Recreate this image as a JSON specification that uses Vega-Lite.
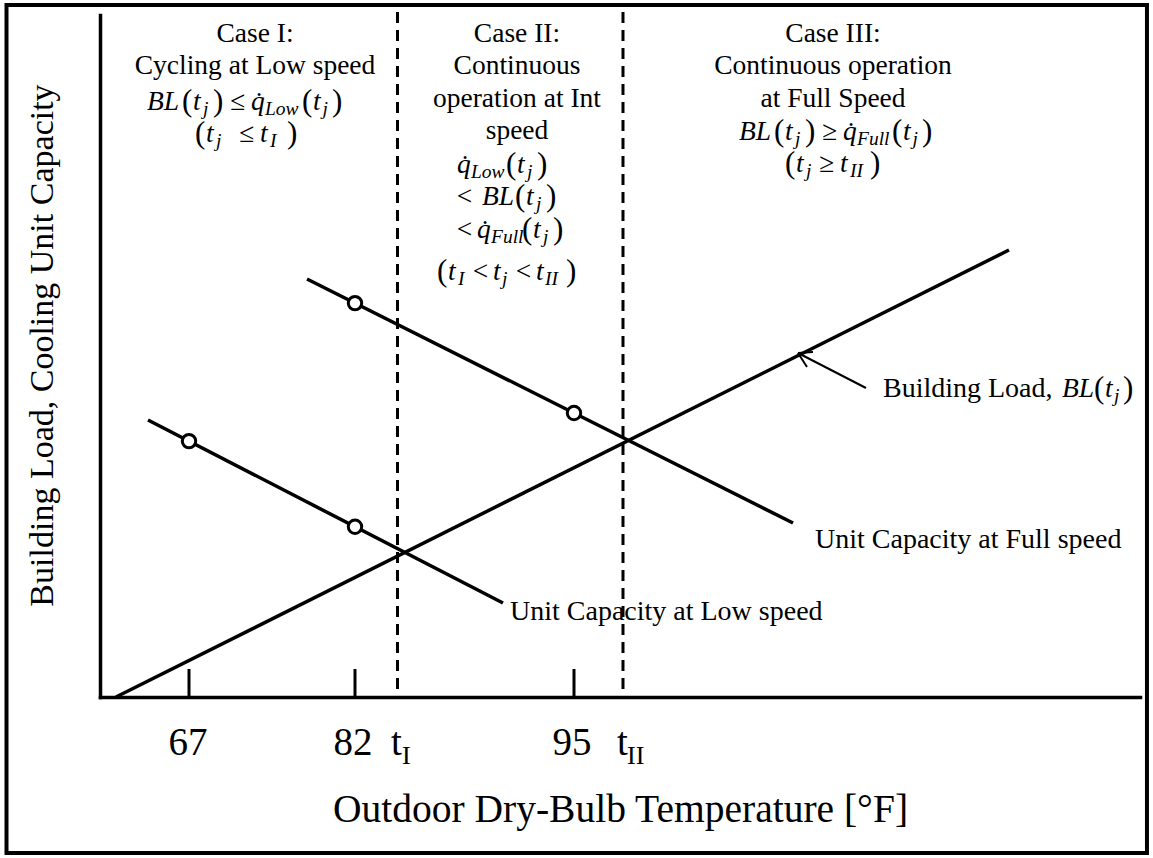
{
  "$schema": "https://vega.github.io/schema/vega-lite/v6.json",
  "width": 1040,
  "height": 682,
  "autosize": {"type": "none"},
  "padding": {"left": 100, "top": 15, "right": 13, "bottom": 161},
  "background": "white",
  "config": {"view": {"stroke": null}, "font": "Liberation Serif", "text": {"font": "Liberation Serif", "color": "black"}},
  "datasets": {
    "frame": [{"x": -8.99, "x2": 100.67, "y": -22.87, "y2": 101.47}],
    "curves": [
      {"curve": "Building Load", "x": 1.538, "y": 0, "x2": 87.404, "y2": 65.543},
      {"curve": "Unit Capacity at Full speed", "x": 19.904, "y": 61.29, "x2": 66.635, "y2": 25.513},
      {"curve": "Unit Capacity at Low speed", "x": 4.615, "y": 40.616, "x2": 38.75, "y2": 13.783}
    ],
    "arrow": [
      {"x": 73.654, "y": 45.308, "x2": 67.115, "y2": 50.44},
      {"x": 67.115, "y": 50.44, "x2": 68.558, "y2": 50.587},
      {"x": 67.115, "y": 50.44, "x2": 67.981, "y2": 48.387}
    ],
    "dividers": [
      {"name": "t_I", "x": 28.606, "y": 100.44, "y2": 0},
      {"name": "t_II", "x": 50.288, "y": 100.44, "y2": 0}
    ],
    "ticks": [
      {"label": "67", "x": 8.558, "y": 0, "y2": 4.106},
      {"label": "82", "x": 24.519, "y": 0, "y2": 4.106},
      {"label": "95", "x": 45.577, "y": 0, "y2": 4.106}
    ],
    "points": [
      {"curve": "Low", "temp": "67", "x": 8.558, "y": 37.522},
      {"curve": "Low", "temp": "82", "x": 24.519, "y": 24.971},
      {"curve": "Full", "temp": "82", "x": 24.519, "y": 57.757},
      {"curve": "Full", "temp": "95", "x": 45.577, "y": 41.635}
    ],
    "texts": [
      {"kind": "head", "x": 14.904, "y": 96.085, "text": "Case I:"},
      {"kind": "head", "x": 14.904, "y": 91.349, "text": "Cycling at Low speed"},
      {"kind": "m", "x": 4.519, "y": 86.07, "text": "BL"},
      {"kind": "p", "x": 7.885, "y": 86.07, "text": "("},
      {"kind": "m", "x": 8.942, "y": 86.07, "text": "t"},
      {"kind": "s", "x": 9.904, "y": 86.07, "text": "j"},
      {"kind": "p", "x": 10.865, "y": 86.07, "text": ")"},
      {"kind": "m", "x": 12.5, "y": 86.07, "text": "≤"},
      {"kind": "m", "x": 14.519, "y": 86.07, "text": "q̇"},
      {"kind": "s", "x": 15.865, "y": 86.07, "text": "Low"},
      {"kind": "p", "x": 19.423, "y": 86.07, "text": "("},
      {"kind": "m", "x": 20.481, "y": 86.07, "text": "t"},
      {"kind": "s", "x": 21.394, "y": 86.07, "text": "j"},
      {"kind": "p", "x": 22.308, "y": 86.07, "text": ")"},
      {"kind": "p", "x": 9.135, "y": 81.422, "text": "("},
      {"kind": "m", "x": 10.192, "y": 81.422, "text": "t"},
      {"kind": "s", "x": 11.154, "y": 81.422, "text": "j"},
      {"kind": "m", "x": 13.365, "y": 81.422, "text": "≤"},
      {"kind": "m", "x": 15.385, "y": 81.422, "text": "t"},
      {"kind": "s", "x": 16.346, "y": 81.422, "text": "I"},
      {"kind": "p", "x": 17.981, "y": 81.422, "text": ")"},
      {"kind": "head", "x": 40.096, "y": 96.085, "text": "Case II:"},
      {"kind": "head", "x": 40.096, "y": 91.349, "text": "Continuous"},
      {"kind": "head", "x": 40.096, "y": 86.554, "text": "operation at Int"},
      {"kind": "head", "x": 40.096, "y": 81.774, "text": "speed"},
      {"kind": "m", "x": 34.327, "y": 76.789, "text": "q̇"},
      {"kind": "s", "x": 35.673, "y": 76.789, "text": "Low"},
      {"kind": "p", "x": 39.038, "y": 76.789, "text": "("},
      {"kind": "m", "x": 40.096, "y": 76.789, "text": "t"},
      {"kind": "s", "x": 41.058, "y": 76.789, "text": "j"},
      {"kind": "p", "x": 42.019, "y": 76.789, "text": ")"},
      {"kind": "m", "x": 34.135, "y": 72.141, "text": "<"},
      {"kind": "m", "x": 36.731, "y": 72.141, "text": "BL"},
      {"kind": "p", "x": 39.904, "y": 72.141, "text": "("},
      {"kind": "m", "x": 40.962, "y": 72.141, "text": "t"},
      {"kind": "s", "x": 41.923, "y": 72.141, "text": "j"},
      {"kind": "p", "x": 42.885, "y": 72.141, "text": ")"},
      {"kind": "m", "x": 34.135, "y": 67.258, "text": "<"},
      {"kind": "m", "x": 36.25, "y": 67.258, "text": "q̇"},
      {"kind": "s", "x": 37.596, "y": 67.258, "text": "Full"},
      {"kind": "p", "x": 40.577, "y": 67.258, "text": "("},
      {"kind": "m", "x": 41.635, "y": 67.258, "text": "t"},
      {"kind": "s", "x": 42.596, "y": 67.258, "text": "j"},
      {"kind": "p", "x": 43.558, "y": 67.258, "text": ")"},
      {"kind": "p", "x": 32.404, "y": 61.144, "text": "("},
      {"kind": "m", "x": 33.462, "y": 61.144, "text": "t"},
      {"kind": "s", "x": 34.423, "y": 61.144, "text": "I"},
      {"kind": "m", "x": 35.673, "y": 61.144, "text": "<"},
      {"kind": "m", "x": 37.788, "y": 61.144, "text": "t"},
      {"kind": "s", "x": 38.654, "y": 61.144, "text": "j"},
      {"kind": "m", "x": 39.808, "y": 61.144, "text": "<"},
      {"kind": "m", "x": 41.923, "y": 61.144, "text": "t"},
      {"kind": "s", "x": 42.788, "y": 61.144, "text": "II"},
      {"kind": "p", "x": 44.808, "y": 61.144, "text": ")"},
      {"kind": "head", "x": 70.481, "y": 96.085, "text": "Case III:"},
      {"kind": "head", "x": 70.481, "y": 91.349, "text": "Continuous operation"},
      {"kind": "head", "x": 70.481, "y": 86.554, "text": "at Full Speed"},
      {"kind": "m", "x": 61.442, "y": 81.672, "text": "BL"},
      {"kind": "p", "x": 64.808, "y": 81.672, "text": "("},
      {"kind": "m", "x": 65.865, "y": 81.672, "text": "t"},
      {"kind": "s", "x": 66.827, "y": 81.672, "text": "j"},
      {"kind": "p", "x": 67.788, "y": 81.672, "text": ")"},
      {"kind": "m", "x": 69.423, "y": 81.672, "text": "≥"},
      {"kind": "m", "x": 71.442, "y": 81.672, "text": "q̇"},
      {"kind": "s", "x": 72.788, "y": 81.672, "text": "Full"},
      {"kind": "p", "x": 76.154, "y": 81.672, "text": "("},
      {"kind": "m", "x": 77.212, "y": 81.672, "text": "t"},
      {"kind": "s", "x": 78.125, "y": 81.672, "text": "j"},
      {"kind": "p", "x": 79.038, "y": 81.672, "text": ")"},
      {"kind": "p", "x": 65.865, "y": 77.023, "text": "("},
      {"kind": "m", "x": 66.923, "y": 77.023, "text": "t"},
      {"kind": "s", "x": 67.885, "y": 77.023, "text": "j"},
      {"kind": "m", "x": 69.135, "y": 77.023, "text": "≥"},
      {"kind": "m", "x": 71.154, "y": 77.023, "text": "t"},
      {"kind": "s", "x": 72.115, "y": 77.023, "text": "II"},
      {"kind": "p", "x": 74.038, "y": 77.023, "text": ")"},
      {"kind": "note", "x": 75.288, "y": 44.032, "text": "Building Load,"},
      {"kind": "m", "x": 92.5, "y": 44.032, "text": "BL"},
      {"kind": "p", "x": 95.577, "y": 44.032, "text": "("},
      {"kind": "m", "x": 96.635, "y": 44.032, "text": "t"},
      {"kind": "s", "x": 97.5, "y": 44.032, "text": "j"},
      {"kind": "p", "x": 98.365, "y": 44.032, "text": ")"},
      {"kind": "note", "x": 68.75, "y": 21.804, "text": "Unit Capacity at Full speed"},
      {"kind": "note", "x": 39.423, "y": 11.29, "text": "Unit Capacity at Low speed"},
      {"kind": "tick", "x": 8.462, "y": -8.504, "text": "67"},
      {"kind": "tick", "x": 24.327, "y": -8.504, "text": "82"},
      {"kind": "tick", "x": 45.385, "y": -8.504, "text": "95"},
      {"kind": "tickt", "x": 27.981, "y": -8.504, "text": "t"},
      {"kind": "ticks", "x": 29.038, "y": -8.504, "text": "I"},
      {"kind": "tickt", "x": 49.712, "y": -8.504, "text": "t"},
      {"kind": "ticks", "x": 50.673, "y": -8.504, "text": "II"}
    ]
  },
  "encoding": {
    "x": {
      "field": "x", "type": "quantitative",
      "scale": {"domain": [0, 100], "nice": false, "zero": false},
      "axis": {"title": "Outdoor Dry-Bulb Temperature [°F]", "labels": false, "ticks": false, "grid": false, "domainColor": "black", "domainWidth": 3.5, "domainCap": "square", "titleFont": "Liberation Serif", "titleFontSize": 39.5, "titleFontWeight": "normal", "titleColor": "black", "titleBaseline": "alphabetic", "titlePadding": 124, "minExtent": 0, "maxExtent": 0}
    },
    "y": {
      "field": "y", "type": "quantitative",
      "scale": {"domain": [0, 100], "nice": false, "zero": false},
      "axis": {"title": "Building Load, Cooling Unit Capacity", "labels": false, "ticks": false, "grid": false, "domainColor": "black", "domainWidth": 3.5, "domainCap": "square", "titleFont": "Liberation Serif", "titleFontSize": 34, "titleFontWeight": "normal", "titleColor": "black", "titleBaseline": "alphabetic", "titlePadding": 48, "titleY": 330, "minExtent": 0, "maxExtent": 0}
    }
  },
  "layer": [
    {"data": {"name": "frame"}, "mark": {"type": "rect", "fill": "transparent", "stroke": "black", "strokeWidth": 4}, "encoding": {"x2": {"field": "x2"}, "y2": {"field": "y2"}}},
    {"data": {"name": "dividers"}, "mark": {"type": "rule", "strokeDash": [11, 7], "strokeWidth": 3, "color": "black"}, "encoding": {"y2": {"field": "y2"}}},
    {"data": {"name": "ticks"}, "mark": {"type": "rule", "strokeWidth": 3, "color": "black"}, "encoding": {"y2": {"field": "y2"}}},
    {"data": {"name": "curves"}, "mark": {"type": "rule", "strokeWidth": 3.5, "color": "black"}, "encoding": {"x2": {"field": "x2"}, "y2": {"field": "y2"}}},
    {"data": {"name": "arrow"}, "mark": {"type": "rule", "strokeWidth": 2, "color": "black"}, "encoding": {"x2": {"field": "x2"}, "y2": {"field": "y2"}}},
    {"data": {"name": "points"}, "mark": {"type": "point", "shape": "circle", "filled": true, "fill": "white", "stroke": "black", "strokeWidth": 3, "size": 180, "opacity": 1}},
    {"data": {"name": "texts"}, "transform": [{"filter": "datum.kind === 'head'"}], "mark": {"type": "text", "align": "center", "baseline": "alphabetic", "fontSize": 27.5, "font": "Liberation Serif", "color": "black"}, "encoding": {"text": {"field": "text"}}},
    {"data": {"name": "texts"}, "transform": [{"filter": "datum.kind === 'note'"}], "mark": {"type": "text", "align": "left", "baseline": "alphabetic", "fontSize": 28, "font": "Liberation Serif", "color": "black"}, "encoding": {"text": {"field": "text"}}},
    {"data": {"name": "texts"}, "transform": [{"filter": "datum.kind === 'm'"}], "mark": {"type": "text", "align": "left", "baseline": "alphabetic", "fontSize": 27.5, "fontStyle": "italic", "font": "Liberation Serif", "color": "black"}, "encoding": {"text": {"field": "text"}}},
    {"data": {"name": "texts"}, "transform": [{"filter": "datum.kind === 'p'"}], "mark": {"type": "text", "align": "left", "baseline": "alphabetic", "fontSize": 31, "dy": 1, "font": "Liberation Serif", "color": "black"}, "encoding": {"text": {"field": "text"}}},
    {"data": {"name": "texts"}, "transform": [{"filter": "datum.kind === 's'"}], "mark": {"type": "text", "align": "left", "baseline": "alphabetic", "fontSize": 19.5, "fontStyle": "italic", "dy": 5, "font": "Liberation Serif", "color": "black"}, "encoding": {"text": {"field": "text"}}},
    {"data": {"name": "texts"}, "transform": [{"filter": "datum.kind === 'tick'"}], "mark": {"type": "text", "align": "center", "baseline": "alphabetic", "fontSize": 39, "font": "Liberation Serif", "color": "black"}, "encoding": {"text": {"field": "text"}}},
    {"data": {"name": "texts"}, "transform": [{"filter": "datum.kind === 'tickt'"}], "mark": {"type": "text", "align": "left", "baseline": "alphabetic", "fontSize": 39, "font": "Liberation Serif", "color": "black"}, "encoding": {"text": {"field": "text"}}},
    {"data": {"name": "texts"}, "transform": [{"filter": "datum.kind === 'ticks'"}], "mark": {"type": "text", "align": "left", "baseline": "alphabetic", "fontSize": 26, "dy": 9, "font": "Liberation Serif", "color": "black"}, "encoding": {"text": {"field": "text"}}}
  ]
}
